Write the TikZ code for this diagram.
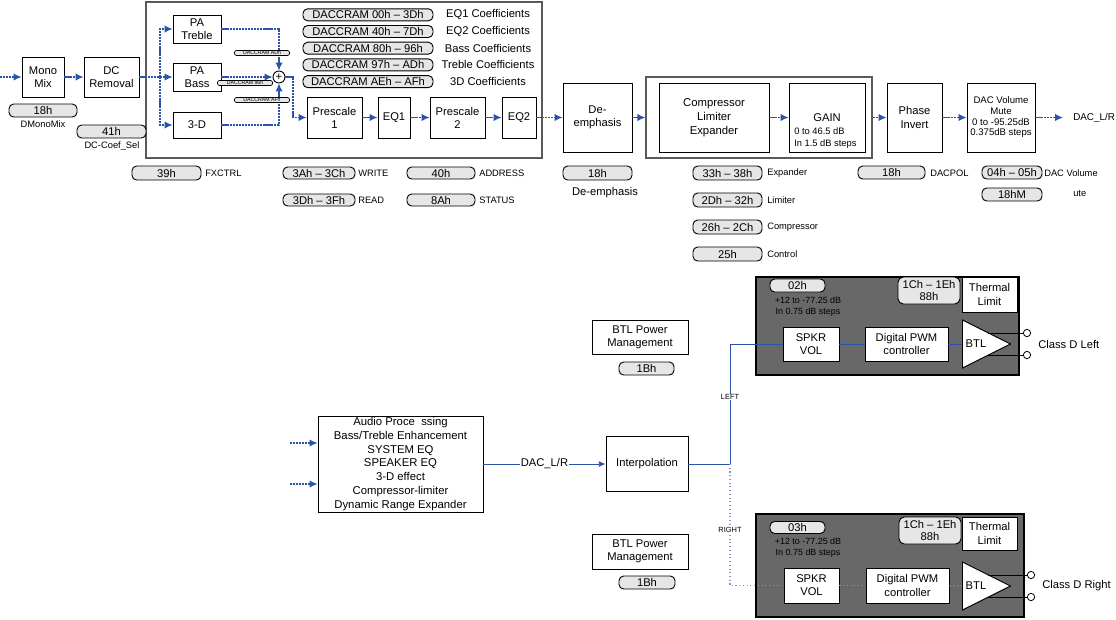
\documentclass[tikz,border=0pt]{standalone}
\usepackage{fontspec}
\setmainfont{Liberation Sans}
\usepackage{tikz}
\usetikzlibrary{arrows.meta,calc,positioning,shapes.geometric}
\definecolor{flowblue}{RGB}{44,82,170}
\definecolor{pillgray}{RGB}{230,230,230}
\definecolor{panelgray}{RGB}{104,104,104}
\definecolor{framegray}{RGB}{90,90,90}
\newcommand{\txtmain}{\fontsize{8.4}{9.8}\selectfont}
\newcommand{\txtbig}{\fontsize{8.5}{10.3}\selectfont}
\newcommand{\txtnote}{\fontsize{7}{8.4}\selectfont}
\newcommand{\txtsmall}{\fontsize{7.2}{8}\selectfont}
\newcommand{\txtrange}{\fontsize{6.7}{8.2}\selectfont}
\newcommand{\txttiny}{\fontsize{3.9}{4.5}\selectfont}
\newcommand{\txtlr}{\fontsize{5.6}{6.5}\selectfont}
\tikzset{sz/.style 2 args={minimum width=#1*0.75pt, minimum height=#2*0.75pt}}

\begin{document}
\begin{tikzpicture}[
    x=0.75pt, y=-0.75pt,
    nosep/.style={inner sep=0},
    blk/.style={draw, line width=0.7pt, fill=white, nosep, align=center, font=\txtmain},
    frame/.style={draw=framegray, line width=1pt, nosep},
    pill/.style={draw, line width=0.7pt, fill=pillgray, rounded corners=3.5pt, nosep, font=\txtmain},
    tinypill/.style={draw, line width=0.5pt, fill=pillgray, rounded corners=1.5pt, nosep, font=\txttiny, sz={55}{5}},
    note/.style={nosep, anchor=west, font=\txtnote},
    panel/.style={draw, line width=1.1pt, fill=panelgray, nosep},
    btl/.style={isosceles triangle, isosceles triangle stretches, shape border rotate=0, draw, line width=0.7pt, fill=white, nosep, sz={48}{48}, anchor=west},
    port/.style={circle, draw, line width=0.6pt, fill=white, nosep, minimum size=5.5pt},
    flow/.style={draw=flowblue, line width=0.8pt, dash pattern=on 1.6pt off 0.6pt, -{Latex[length=6pt,width=5.5pt]}},
    wire/.style={draw=flowblue, line width=0.6pt},
    wirer/.style={draw=flowblue!60, line width=0.8pt, dotted},
    tag/.style={fill=white, inner sep=0.5pt, font=\txtlr}]
\useasboundingbox (0,0) rectangle (1116,619);

% effects chain
\coordinate (monoin) at (0,77);
\node[blk, sz={42}{40}] (monomix) at (43,77) {Mono\\Mix};
\node[blk, sz={55}{40}] (dcrem) at (111.5,77) {DC\\Removal};
\node[frame, sz={396}{156}] (fxbox) at (344,80) {};
\coordinate (fxsplit) at (160,77);
\node[blk, sz={48}{28}] (patreble) at (197,29) {PA\\Treble};
\node[blk, sz={48}{28}] (pabass) at (197,77) {PA\\Bass};
\node[blk, sz={48}{26}] (threed) at (197,125) {3-D};
\node[circle, draw, line width=0.7pt, fill=white, nosep, minimum size=9pt, font=\txtmain] (fxsum) at (279,77) {+};
\coordinate (fxjog) at (293,97);

\foreach \addr/\what [count=\i] in {00h -- 3Dh/EQ1, 40h -- 7Dh/EQ2, 80h -- 96h/Bass, 97h -- ADh/Treble, AEh -- AFh/3D} {
  \node[pill, sz={130}{12}] (cram\i) at (368,-1.9+16.7*\i) {DACCRAM \addr};
  \node[nosep, font=\txtmain] (coef\i) at (488,-1.9+16.7*\i) {\what{} Coefficients};
}

\node[blk, sz={55}{41}] (prescale1) at (334.5,117.5) {Prescale\\1};
\node[blk, sz={32}{41}] (eqone) at (394,117.5) {EQ1};
\node[blk, sz={55}{41}] (prescale2) at (457.5,117.5) {Prescale\\2};
\node[blk, sz={34}{41}] (eqtwo) at (519,117.5) {EQ2};
\node[blk, sz={69}{69}] (deemph) at (597.5,117.5) {De-\\emphasis};
\node[frame, sz={226}{81}] (clebox) at (759,117.5) {};
\node[blk, sz={110}{69}, font=\txtbig] (cle) at (714,117.5) {Compressor\\Limiter\\Expander};
\node[blk, sz={76}{69}] (gain) at (827,117.5) {};
\node[nosep, font=\txtmain] (gainlbl) at (827,118) {GAIN};
\node[nosep, anchor=west, align=left, font=\fontsize{7}{9}\selectfont] (gainrng) at (794,138) {0 to 46.5 dB\\In 1.5 dB steps};
\node[blk, sz={55}{69}] (phase) at (914.5,117.5) {Phase\\Invert};
\node[blk, sz={68}{69}, font=\txtsmall] (dacvol) at (1001,117.5) {DAC Volume\\Mute\\0 to -95.25dB\\0.375dB steps};
\coordinate (dacout) at (1063,117.5);
\node[note, font=\fontsize{7.4}{9}\selectfont] (dacoutlbl) at (1073,118) {DAC\_L/R};

\draw[flow] (monoin) -- (monomix);
\draw[flow] (monomix) -- (dcrem);
\draw[flow, -] (dcrem) -- (fxsplit);
\draw[flow] (fxsplit) |- (patreble);
\draw[flow] (fxsplit) -- (pabass);
\draw[flow] (fxsplit) |- (threed);
\draw[flow] (patreble) -| (fxsum);
\draw[flow] (pabass) -- (fxsum);
\draw[flow] (threed) -| (fxsum);
\draw[flow] (fxsum) -| (fxjog) |- (prescale1);
\draw[flow] (prescale1) -- (eqone);
\draw[flow] (eqone) -- (prescale2);
\draw[flow] (prescale2) -- (eqtwo);
\draw[flow] (eqtwo) -- (deemph);
\draw[flow] (deemph) -- (clebox);
\draw[flow] (cle) -- (gain);
\draw[flow] (clebox) -- (phase);
\draw[flow] (phase) -- (dacvol);
\draw[flow] (dacvol) -- (dacout);

\node[tinypill] (cramadh) at (262,53) {DACCRAM ADh};
\node[tinypill] (cram96h) at (245,83) {DACCRAM 96h};
\node[tinypill] (cramafh) at (262,100) {DACCRAM AFh};

% registers
\node[pill, sz={68}{13}] (regmono) at (43,110.5) {18h};
\node[nosep, font=\txtnote] (regmonotxt) at (43,124) {DMonoMix};
\node[pill, sz={69}{13}] (regdc) at (111.5,131.5) {41h};
\node[nosep, font=\txtnote] (regdctxt) at (112,146) {DC-Coef\_Sel};
\node[pill, sz={69}{14}] (regfx) at (166.5,173) {39h};
\node[note] (regfxtxt) at (205,173) {FXCTRL};
\node[pill, sz={72}{12}] (regwr) at (319,173) {3Ah -- 3Ch};
\node[note] (regwrtxt) at (358,173) {WRITE};
\node[pill, sz={72}{12}] (regrd) at (319,200) {3Dh -- 3Fh};
\node[note] (regrdtxt) at (358,200) {READ};
\node[pill, sz={68}{12}] (regaddr) at (441,173) {40h};
\node[note] (regaddrtxt) at (479,173) {ADDRESS};
\node[pill, sz={68}{12}] (regstat) at (441,200) {8Ah};
\node[note] (regstattxt) at (479,200) {STATUS};
\node[pill, sz={69}{14}] (regde) at (597.5,173) {18h};
\node[nosep, font=\txtmain] (regdetxt) at (605,193) {De-emphasis};
\foreach \rng/\what [count=\i] in {33h -- 38h/Expander, 2Dh -- 32h/Limiter, 26h -- 2Ch/Compressor, 25h/Control} {
  \node[pill, sz={69}{14}] (regcle\i) at (727.5,146+27*\i) {\rng};
  \node[note] (regcletxt\i) at (767,146+27*\i) {\what};
}
\node[pill, sz={67}{13}] (regpol) at (891.5,172.5) {18h};
\node[note] (regpoltxt) at (930,173) {DACPOL};
\node[pill, sz={60}{13}] (regvol) at (1012,172.5) {04h -- 05h};
\node[note] (regvoltxt) at (1044,173) {DAC Volume};
\node[pill, sz={60}{13}] (regmute) at (1012,194.5) {18hM};
\node[note] (regmutetxt) at (1073,194) {ute};

% speaker path
\node[blk, sz={165}{96}, font=\txtbig] (audio) at (400.5,464) {Audio Proce\ \ ssing\\Bass/Treble Enhancement\\SYSTEM EQ\\SPEAKER EQ\\3-D effect\\Compressor-limiter\\Dynamic Range Expander};
\coordinate (audioin1) at (290,443);
\coordinate (audioin2) at (290,484);
\draw[flow] (audioin1) -- (audioin1 -| audio.west);
\draw[flow] (audioin2) -- (audioin2 -| audio.west);
\node[blk, sz={82}{55}] (interp) at (647,464) {Interpolation};
\draw[wire, -{Latex[length=5pt,width=4.5pt]}] (audio) -- node[fill=white, inner sep=1pt, font=\txtmain] (daclbl) {DAC\_L/R} (interp);

\node[blk, sz={96}{34}] (btlpmL) at (640,337) {BTL Power\\Management};
\node[pill, sz={55}{13}] (regpmL) at (646.5,368.5) {1Bh};
\node[blk, sz={96}{35}] (btlpmR) at (640,551.5) {BTL Power\\Management};
\node[pill, sz={56}{13}] (regpmR) at (647,582.5) {1Bh};

\node[panel, sz={263}{98}] (panelL) at (887.5,326) {};
\node[pill, sz={55}{13}] (regspkL) at (797.5,285.5) {02h};
\node[nosep, align=center, font=\txtrange] (rngL) at (808,306.5) {+12 to -77.25 dB\\In 0.75 dB steps};
\node[pill, align=center, sz={62}{27}, rounded corners=4pt, font=\fontsize{8.4}{9}\selectfont] (regthL) at (929,290.5) {1Ch -- 1Eh\\88h};
\node[blk, sz={55}{35}] (thermL) at (989.5,294.5) {Thermal\\Limit};
\node[blk, sz={56}{34}] (spkrL) at (811,344) {SPKR\\VOL};
\node[blk, sz={83}{34}] (pwmL) at (906.5,344) {Digital PWM\\controller};
\node[btl] (btlL) at (962,344) {};
\node[nosep, font=\txtmain] (btlLtxt) at (976,344) {BTL};
\coordinate (btlLa) at ([shift={(26,-11)}]btlL.west);
\coordinate (btlLb) at ([shift={(26,11)}]btlL.west);
\node[port] (portL1) at (1027,333) {};
\node[port] (portL2) at (1027,355) {};
\draw[line width=0.6pt] (btlLa) -- (portL1);
\draw[line width=0.6pt] (btlLb) -- (portL2);
\node[note, font=\txtmain] (outL) at (1038,344) {Class D Left};

\node[panel, sz={268}{103}] (panelR) at (890,565.5) {};
\node[pill, sz={55}{12}] (regspkR) at (797.5,527.5) {03h};
\node[nosep, align=center, font=\txtrange] (rngR) at (808,547.5) {+12 to -77.25 dB\\In 0.75 dB steps};
\node[pill, align=center, sz={62}{27}, rounded corners=4pt, font=\fontsize{8.4}{9}\selectfont] (regthR) at (930,530.5) {1Ch -- 1Eh\\88h};
\node[blk, sz={55}{33}] (thermR) at (989.5,533.5) {Thermal\\Limit};
\node[blk, sz={55}{35}] (spkrR) at (811.5,585.5) {SPKR\\VOL};
\node[blk, sz={83}{35}] (pwmR) at (907.5,585.5) {Digital PWM\\controller};
\node[btl] (btlR) at (962,586) {};
\node[nosep, font=\txtmain] (btlRtxt) at (976,586) {BTL};
\coordinate (btlRa) at ([shift={(26,-11)}]btlR.west);
\coordinate (btlRb) at ([shift={(26,11)}]btlR.west);
\node[port] (portR1) at (1031,575) {};
\node[port] (portR2) at (1031,597) {};
\draw[line width=0.6pt] (btlRa) -- (portR1);
\draw[line width=0.6pt] (btlRb) -- (portR2);
\node[note, font=\txtmain] (outR) at (1042,586) {Class D Right};

\coordinate (bus) at (730,464);
\draw[wire] (interp) -- (bus) |- (spkrL);
\draw[wire] (spkrL) -- (pwmL);
\draw[wire] (pwmL) -- (btlL);
\draw[wirer] (bus) |- (spkrR);
\draw[wirer] (spkrR) -- (pwmR);
\draw[wirer] (pwmR) -- (btlR);
\node[tag] (tagL) at (730,397) {LEFT};
\node[tag] (tagR) at (730,530) {RIGHT};

\end{tikzpicture}
\end{document}
